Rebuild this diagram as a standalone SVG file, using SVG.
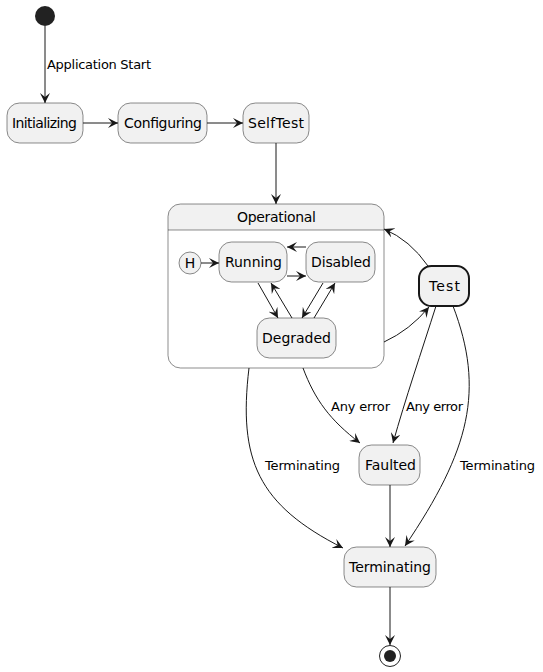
<svg xmlns="http://www.w3.org/2000/svg" width="543" height="672" viewBox="0 0 543 672">
<style>
.st{fill:#F1F1F1;stroke:#181818;stroke-width:0.5}
.bold{stroke-width:2}
.lbl{font-family:"DejaVu Sans",sans-serif;font-size:14px;fill:#000}
.el{font-family:"DejaVu Sans",sans-serif;font-size:13px;fill:#000}
.e{fill:none;stroke:#181818;stroke-width:1}
</style>
<defs>
<marker id="ah" markerUnits="userSpaceOnUse" markerWidth="12" markerHeight="10" viewBox="0 0 12 10" refX="10" refY="5" orient="auto">
<path d="M10,5 L0,0 L4,5 L0,10 Z" fill="#181818"/>
</marker>
</defs>
<rect width="543" height="672" fill="#fff"/>
<g id="start"><circle cx="45" cy="16" r="10" fill="#222"/></g>
<g id="Initializing"><rect class="st" x="7" y="103" width="76" height="40" rx="12.5"/><text class="lbl" x="12" y="128" textLength="65" lengthAdjust="spacing">Initializing</text></g>
<g id="Configuring"><rect class="st" x="118" y="103" width="89" height="40" rx="12.5"/><text class="lbl" x="124" y="128" textLength="78" lengthAdjust="spacing">Configuring</text></g>
<g id="SelfTest"><rect class="st" x="243" y="103" width="66" height="40" rx="12.5"/><text class="lbl" x="248" y="128" textLength="56" lengthAdjust="spacing">SelfTest</text></g>
<g id="Operational">
<path d="M180.5,204 H371.5 A12.5,12.5 0 0 1 384,216.5 V230 H168 V216.5 A12.5,12.5 0 0 1 180.5,204 Z" fill="#F1F1F1"/>
<rect x="168" y="204" width="216" height="164" rx="12.5" fill="none" stroke="#181818" stroke-width="0.5"/>
<line x1="168" y1="230" x2="384" y2="230" stroke="#181818" stroke-width="0.5"/>
<text class="lbl" x="237" y="222" textLength="79" lengthAdjust="spacing">Operational</text>
</g>
<g id="History"><circle class="st" cx="190" cy="263" r="11"/><text class="lbl" x="190" y="268" text-anchor="middle">H</text></g>
<g id="Running"><rect class="st" x="219" y="242" width="68" height="40" rx="12.5"/><text class="lbl" x="225" y="267" textLength="57" lengthAdjust="spacing">Running</text></g>
<g id="Disabled"><rect class="st" x="306" y="242" width="69" height="40" rx="12.5"/><text class="lbl" x="311" y="267" textLength="60" lengthAdjust="spacing">Disabled</text></g>
<g id="Degraded"><rect class="st" x="257" y="318" width="79" height="40" rx="12.5"/><text class="lbl" x="262" y="343" textLength="69" lengthAdjust="spacing">Degraded</text></g>
<g id="Test"><rect class="st bold" x="419" y="266" width="50" height="40" rx="12.5"/><text class="lbl" x="429" y="291" textLength="31" lengthAdjust="spacing">Test</text></g>
<g id="Faulted"><rect class="st" x="359" y="445" width="61" height="40" rx="12.5"/><text class="lbl" x="365" y="470" textLength="51" lengthAdjust="spacing">Faulted</text></g>
<g id="Terminating"><rect class="st" x="344" y="547" width="92" height="40" rx="12.5"/><text class="lbl" x="349" y="572" textLength="82" lengthAdjust="spacing">Terminating</text></g>
<g id="end"><circle cx="390" cy="656" r="10.5" fill="#fff" stroke="#222" stroke-width="1"/><circle cx="390" cy="656" r="6" fill="#222"/></g>
<g id="connectors">
<path class="e" d="M45,26 V103" marker-end="url(#ah)"/>
<text class="el" x="47" y="69" textLength="104" lengthAdjust="spacing">Application Start</text>
<path class="e" d="M83,123 H118" marker-end="url(#ah)"/>
<path class="e" d="M207,123 H243" marker-end="url(#ah)"/>
<path class="e" d="M276,143 V204" marker-end="url(#ah)"/>
<path class="e" d="M201,263 H219" marker-end="url(#ah)"/>
<path class="e" d="M306,247 H287" marker-end="url(#ah)"/>
<path class="e" d="M287,276 H306" marker-end="url(#ah)"/>
<path class="e" d="M258,283 L278,318" marker-end="url(#ah)"/>
<path class="e" d="M292,318 L271,283" marker-end="url(#ah)"/>
<path class="e" d="M323,283 L302,318" marker-end="url(#ah)"/>
<path class="e" d="M314,318 L335,283" marker-end="url(#ah)"/>
<path class="e" d="M428,266 Q410,240 384,229" marker-end="url(#ah)"/>
<path class="e" d="M384,342 Q410,330 429,307" marker-end="url(#ah)"/>
<path class="e" d="M249,368 C238,460 258,505 343,548" marker-end="url(#ah)"/>
<text class="el" x="265" y="470" textLength="75" lengthAdjust="spacing">Terminating</text>
<path class="e" d="M303,368 C315,400 330,420 360,443" marker-end="url(#ah)"/>
<text class="el" x="331" y="411" textLength="59" lengthAdjust="spacing">Any error</text>
<path class="e" d="M436,306 C422,350 405,400 393,443" marker-end="url(#ah)"/>
<text class="el" x="406" y="411" textLength="57" lengthAdjust="spacing">Any error</text>
<path class="e" d="M453,306 C485,390 470,450 405,546" marker-end="url(#ah)"/>
<text class="el" x="460" y="470" textLength="75" lengthAdjust="spacing">Terminating</text>
<path class="e" d="M390,485 V547" marker-end="url(#ah)"/>
<path class="e" d="M390,587 V645" marker-end="url(#ah)"/>
</g>
</svg>
